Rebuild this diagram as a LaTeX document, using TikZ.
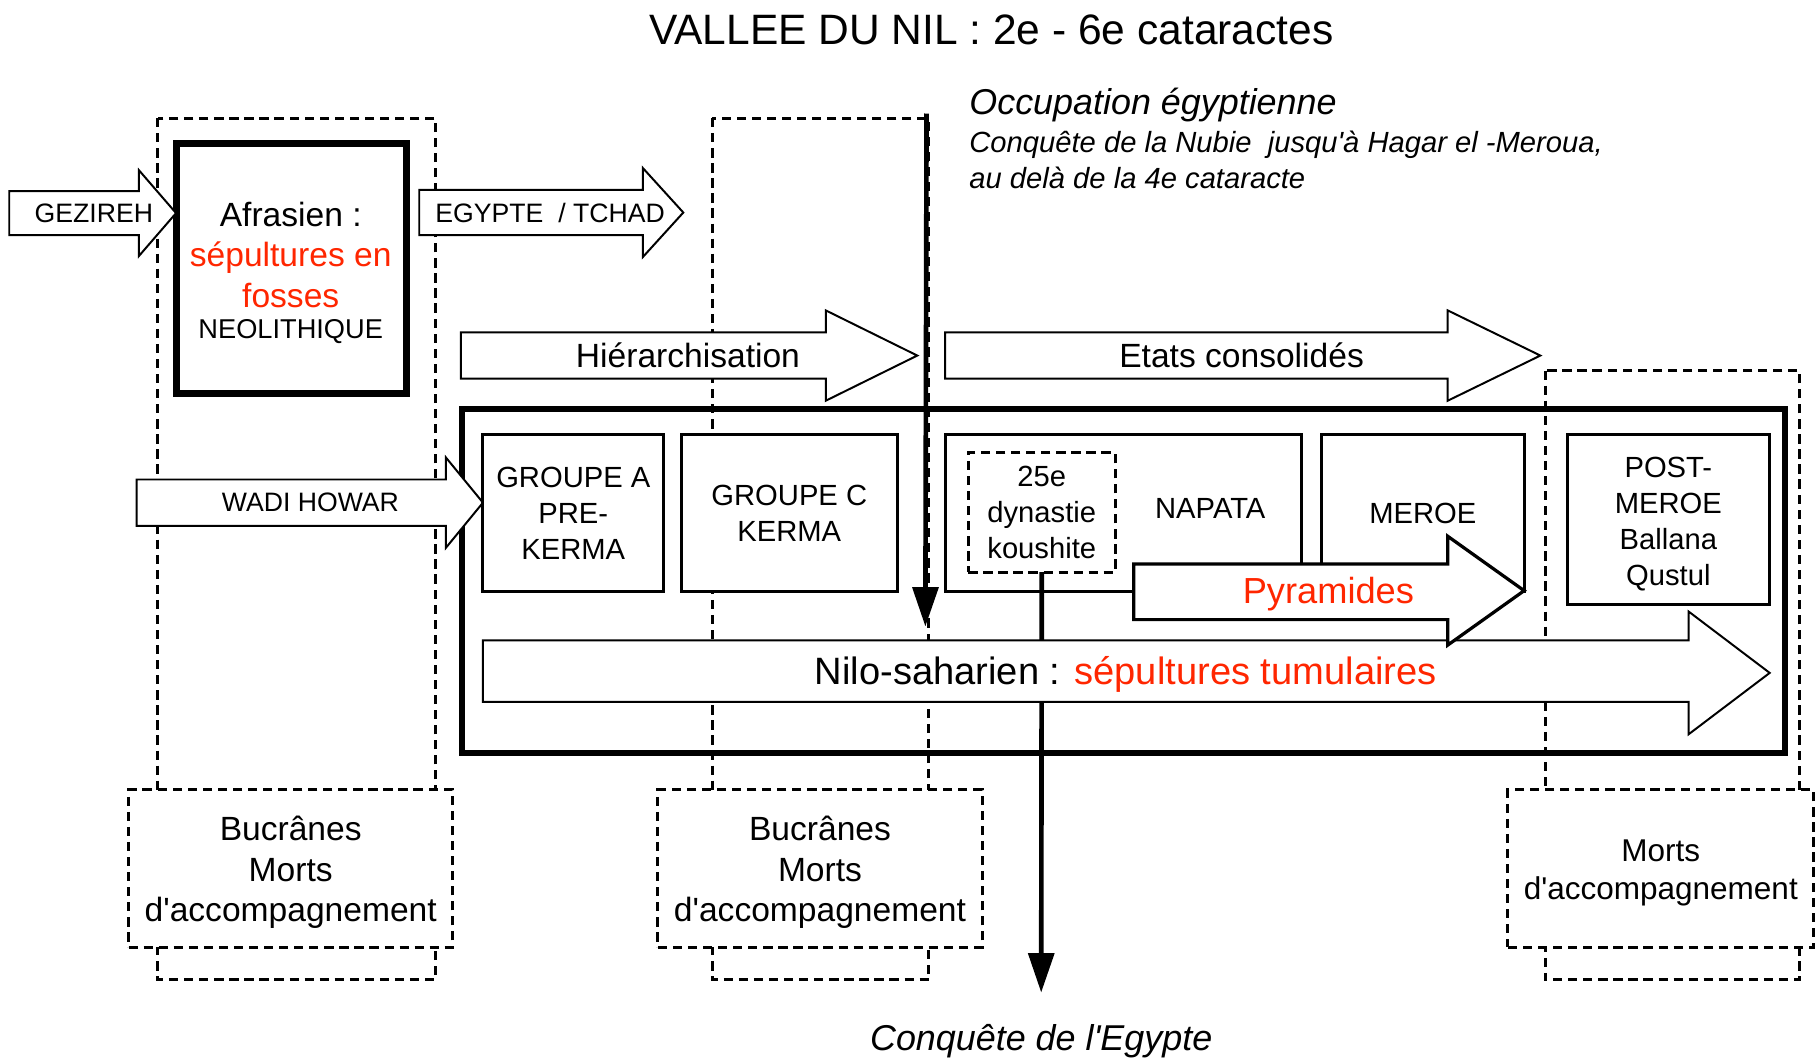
\documentclass[tikz,border=0pt]{standalone}
\usepackage{fontspec}
\setmainfont{Liberation Sans}[Ligatures=TeXOff]
\usetikzlibrary{arrows.meta}
\definecolor{rouge}{RGB}{255,38,0}
% block arrow: [opts] x0, shaft top, shaft bottom, head x, head top, head bottom, tip x
\newcommand{\barrow}[8][]{\draw[blockarr,#1] (#2,#3) -- (#5,#3) -- (#5,#6) -- (#8,{(#6+#7)/2}) -- (#5,#7) -- (#5,#4) -- (#2,#4) -- cycle;}
\begin{document}
\begin{tikzpicture}[x=1pt,y=-1pt,
  every node/.style={inner sep=0pt,outer sep=0pt},
  solidbox/.style={draw,line width=2.6pt,fill=white,rectangle},
  dashbox/.style={draw,line width=2.6pt,dash pattern=on 8pt off 5pt,fill=white,rectangle},
  dashcol/.style={draw,line width=2.6pt,dash pattern=on 8pt off 5pt},
  blockarr/.style={draw,line width=1.7pt,fill=white,line join=miter},
  t22/.style={font=\fontsize{23}{27}\selectfont,align=center},
  t25/.style={font=\fontsize{25.2}{31}\selectfont,align=center},
  t28/.style={font=\fontsize{29}{35}\selectfont,align=center},
  big/.style={font=\fontsize{29}{35}\selectfont,align=center},
  heavy/.style={line width=4pt,-{Triangle[length=34pt,width=22pt]}}]
\useasboundingbox (0,0) rectangle (1568,916);

% title
\node[font=\fontsize{36.7}{42}\selectfont,anchor=base] (title) at (856,38) {VALLEE DU NIL : 2e - 6e cataractes};

% big frame
\node[draw,line width=5.5pt,minimum width=1142pt,minimum height=297pt] (frame) at (970,501.5) {};

% dashed columns
\draw[dashcol] (136,102) rectangle (376,846);
\draw[dashcol] (615,102) rectangle (802,846);
\draw[dashcol] (1334,320) rectangle (1554,846);

% Afrasien
\node[solidbox,line width=6pt,minimum width=199pt,minimum height=216pt] (afr) at (251.5,232) {};
\node[font=\fontsize{29}{35}\selectfont,align=center] (afrtxt) at (251,220) {Afrasien :\\\textcolor{rouge}{sépultures en}\\\textcolor{rouge}{fosses}};
\node[font=\fontsize{23.5}{28}\selectfont,anchor=base] (neo) at (251,292) {NEOLITHIQUE};

% left arrows
\barrow{8}{165}{203}{120}{147}{221}{152}
\node[t22] (gez) at (81,184) {GEZIREH};
\barrow{362}{164}{203}{555}{145}{222}{590}
\node[t22] (egy) at (475,184) {EGYPTE~ / TCHAD};
\barrow{118}{414}{454}{385}{395}{473}{417}
\node[t22] (wadi) at (268,434) {WADI HOWAR};

% upper arrows
\barrow{398}{287}{327}{713}{268}{346}{792}
\node[big] (hier) at (594,307) {Hiérarchisation};
\barrow{816}{287}{327}{1250}{268}{346}{1330}
\node[big] (etats) at (1072,307) {Etats consolidés};

% boxes in frame
\node[solidbox,minimum width=156pt,minimum height=136pt,t25] (grpA) at (495,443) {GROUPE A\\PRE-\\KERMA};
\node[solidbox,minimum width=187pt,minimum height=136pt,t25] (grpC) at (681.5,443) {GROUPE C\\KERMA};
\node[solidbox,minimum width=308pt,minimum height=136pt] (napata) at (970,443) {};
\node[t25] (napatatxt) at (1045,439) {NAPATA};
\node[dashbox,minimum width=127pt,minimum height=103pt,t25] (koush) at (899.5,442.5) {25e\\dynastie\\koushite};
\node[solidbox,minimum width=175pt,minimum height=136pt,t25] (meroe) at (1228.5,443) {MEROE};
\node[solidbox,minimum width=175pt,minimum height=147pt] (postm) at (1440.5,448.5) {};
\node[t25] (postmtxt) at (1440.5,452.5) {POST-\\MEROE\\Ballana\\Qustul};

% conquest of Egypt line
\coordinate (ctip) at (899,857);
\draw[heavy] (koush.south) -- (ctip);
\node[font=\fontsize{31}{37}\selectfont\itshape] (conq) at (899,899) {Conquête de l'Egypte};

% Nilo-saharien
\barrow{417}{553}{606}{1458}{528}{634}{1528}
\node[font=\fontsize{32.9}{38}\selectfont] (nilo) at (972,582) {Nilo-saharien : \textcolor{rouge}{sépultures tumulaires}};

% Pyramides
\barrow[line width=2.8pt]{979}{487}{535}{1250}{463}{557}{1316}
\node[font=\fontsize{31.3}{36}\selectfont,text=rouge] (pyr) at (1147,513) {Pyramides};

% Occupation egyptienne
\coordinate (otop) at (800,98);
\coordinate (otip) at (799,541);
\draw[heavy] (otop) -- (otip);
\node[font=\fontsize{31}{37}\selectfont\itshape,anchor=base west] (occ) at (837,99) {Occupation égyptienne};
\node[font=\fontsize{25.2}{31}\selectfont\itshape,anchor=base west] (occ2) at (837,132) {Conquête de la Nubie~ jusqu'à Hagar el -Meroua,};
\node[font=\fontsize{25.2}{31}\selectfont\itshape,anchor=base west] (occ3) at (837,163) {au delà de la 4e cataracte};

% bottom dashed boxes
\node[dashbox,minimum width=280pt,minimum height=136pt] (buc1) at (251,750) {};
\node[t28] (buc1txt) at (251,753.5) {Bucrânes\\Morts\\d'accompagnement};
\node[dashbox,minimum width=280pt,minimum height=136pt] (buc2) at (708,750) {};
\node[t28] (buc2txt) at (708,753.5) {Bucrânes\\Morts\\d'accompagnement};
\node[dashbox,minimum width=264pt,minimum height=136pt] (buc3) at (1434,750) {};
\node[font=\fontsize{27.2}{33}\selectfont,align=center] (buc3txt) at (1434,754) {Morts\\d'accompagnement};
\end{tikzpicture}
\end{document}
